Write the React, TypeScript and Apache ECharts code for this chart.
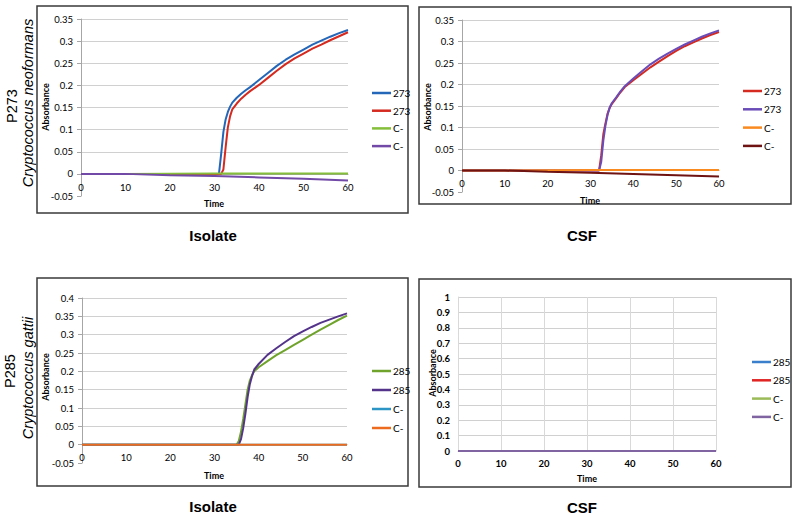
import React, { useEffect, useRef } from "react";
import * as echarts from "echarts";

// ---------- data ----------
// Panel 1: P273 Isolate
const P1_TIME = [0, 10, 20, 30, 31, 31.5, 32, 32.5, 33, 33.5, 34, 35, 36, 37, 38, 40, 42, 44, 46, 48, 50, 52, 54, 56, 58, 60];
const P1_273_BLUE = [0, 0, 0, 0, 0, 0.045, 0.095, 0.123, 0.14, 0.152, 0.161, 0.172, 0.181, 0.189, 0.196, 0.212, 0.228, 0.244, 0.258, 0.27, 0.281, 0.292, 0.301, 0.31, 0.318, 0.325];
const P1_273_RED = [0, 0, 0, 0, 0, 0, 0.01, 0.06, 0.105, 0.13, 0.146, 0.159, 0.17, 0.179, 0.187, 0.201, 0.217, 0.233, 0.248, 0.261, 0.272, 0.283, 0.292, 0.302, 0.311, 0.32];
const P1_CTRL_TIME = [0, 10, 20, 30, 40, 50, 60];
const P1_C_GREEN = [0, 0, 0.0005, 0.001, 0.001, 0.001, 0.001];
const P1_C_PURPLE = [0, 0, -0.003, -0.005, -0.008, -0.011, -0.015];

// Panel 2: P273 CSF
const P2_TIME = [0, 10, 20, 30, 32, 32.5, 33, 33.5, 34, 34.5, 35, 36, 37, 38, 40, 42, 44, 46, 48, 50, 52, 54, 56, 58, 60];
const P2_273_RED = [0, 0, 0, 0, 0, 0.035, 0.085, 0.11, 0.133, 0.146, 0.155, 0.168, 0.182, 0.194, 0.21, 0.225, 0.24, 0.253, 0.266, 0.278, 0.289, 0.298, 0.307, 0.315, 0.322];
const P2_273_PURPLE = [0, 0, 0, 0, 0, 0.02, 0.07, 0.105, 0.13, 0.147, 0.157, 0.17, 0.184, 0.196, 0.214, 0.231, 0.247, 0.26, 0.272, 0.283, 0.293, 0.302, 0.311, 0.319, 0.326];
const P2_CTRL_TIME = [0, 10, 20, 30, 40, 50, 60];
const P2_C_ORANGE = [0, 0, 0.0005, 0.001, 0.001, 0.001, 0.001];
const P2_C_DARKRED = [0, 0, -0.003, -0.005, -0.008, -0.011, -0.014];

// Panel 3: P285 Isolate
const P3_TIME = [0, 10, 20, 30, 35, 35.5, 36, 36.5, 37, 37.5, 38, 38.5, 39, 40, 42, 44, 46, 48, 50, 52, 54, 56, 58, 60];
const P3_285_GREEN = [0, 0, 0, 0, 0, 0.01, 0.035, 0.07, 0.11, 0.15, 0.175, 0.19, 0.2, 0.211, 0.228, 0.244, 0.258, 0.272, 0.286, 0.3, 0.314, 0.327, 0.34, 0.352];
const P3_285_PURPLE = [0, 0, 0, 0, 0, 0, 0.015, 0.045, 0.085, 0.13, 0.165, 0.187, 0.205, 0.22, 0.245, 0.263, 0.28, 0.296, 0.309, 0.321, 0.332, 0.341, 0.35, 0.358];
const P3_CTRL_TIME = [0, 60];
const P3_C_BLUE = [0, 0];
const P3_C_ORANGE = [0, 0];

// Panel 4: P285 CSF
const P4_TIME = [0, 60];
const P4_285_BLUE = [0, 0];
const P4_285_RED = [0, 0];
const P4_C_GREEN = [0, 0];
const P4_C_PURPLE = [0, 0];

const X_TICKS = { min: 0, max: 60, interval: 10 };

const zip = (t: number[], v: number[]) => t.map((x, i) => [x, v[i]]);

const FONT = "Lato, 'Open Sans', sans-serif";
const ARIAL = "'Liberation Sans', Arial, sans-serif";

type S = { id: string; label: string; color: string; t: number[]; v: number[] };

const PANELS: { series: S[]; legendLeft: number; legendTop: number; legendGap: number }[] = [
  {
    series: [
      { id: "p1a", label: "273", color: "#2466B8", t: P1_TIME, v: P1_273_BLUE },
      { id: "p1b", label: "273", color: "#D42A20", t: P1_TIME, v: P1_273_RED },
      { id: "p1c", label: "C-", color: "#84BE3A", t: P1_CTRL_TIME, v: P1_C_GREEN },
      { id: "p1d", label: "C-", color: "#7249A6", t: P1_CTRL_TIME, v: P1_C_PURPLE },
    ],
    legendLeft: 367,
    legendTop: 82,
    legendGap: 5.7,
  },
  {
    series: [
      { id: "p2a", label: "273", color: "#D42A20", t: P2_TIME, v: P2_273_RED },
      { id: "p2b", label: "273", color: "#6A4CB8", t: P2_TIME, v: P2_273_PURPLE },
      { id: "p2c", label: "C-", color: "#F98A20", t: P2_CTRL_TIME, v: P2_C_ORANGE },
      { id: "p2d", label: "C-", color: "#6E1212", t: P2_CTRL_TIME, v: P2_C_DARKRED },
    ],
    legendLeft: 738,
    legendTop: 80,
    legendGap: 6.3,
  },
  {
    series: [
      { id: "p3a", label: "285", color: "#6FA32C", t: P3_TIME, v: P3_285_GREEN },
      { id: "p3b", label: "285", color: "#54348A", t: P3_TIME, v: P3_285_PURPLE },
      { id: "p3c", label: "C-", color: "#2D95C6", t: P3_CTRL_TIME, v: P3_C_BLUE },
      { id: "p3d", label: "C-", color: "#EC6B1E", t: P3_CTRL_TIME, v: P3_C_ORANGE },
    ],
    legendLeft: 367,
    legendTop: 360,
    legendGap: 7,
  },
  {
    series: [
      { id: "p4a", label: "285", color: "#3A7FCB", t: P4_TIME, v: P4_285_BLUE },
      { id: "p4b", label: "285", color: "#E02424", t: P4_TIME, v: P4_285_RED },
      { id: "p4c", label: "C-", color: "#9BBB59", t: P4_TIME, v: P4_C_GREEN },
      { id: "p4d", label: "C-", color: "#8064A2", t: P4_TIME, v: P4_C_PURPLE },
    ],
    legendLeft: 747,
    legendTop: 351,
    legendGap: 6.3,
  },
];

const GRIDS = [
  { left: 81, top: 19, width: 267, height: 177 },
  { left: 462, top: 20, width: 257, height: 172 },
  { left: 82, top: 298, width: 265, height: 165 },
  { left: 458, top: 297, width: 258, height: 154 },
];

const Y_AXES = [
  { min: -0.05, max: 0.35, interval: 0.05 },
  { min: -0.05, max: 0.35, interval: 0.05 },
  { min: -0.05, max: 0.4, interval: 0.05 },
  { min: 0, max: 1, interval: 0.1 },
];

// x-axis labels sit just below the zero line (negative margin from grid bottom)
const X_LABEL_MARGIN = [-14, -13.5, -10.5, 7];

const BORDERS = [
  { x: 37, y: 6, width: 371, height: 207 },
  { x: 419, y: 7, width: 372, height: 197 },
  { x: 37, y: 278, width: 371, height: 208 },
  { x: 419, y: 279, width: 372, height: 208 },
];

const TIME_POS = [
  [214, 203],
  [590, 200],
  [214, 475],
  [587, 478],
];
const ABS_POS = [
  [45, 107],
  [427, 107],
  [45, 377],
  [432, 373],
];

const labelMap: Record<string, string> = {};
PANELS.forEach((p) => p.series.forEach((s) => (labelMap[s.id] = s.label)));

export default function App() {
  const ref = useRef<HTMLDivElement>(null);
  useEffect(() => {
    if (!ref.current) return;
    const chart = echarts.init(ref.current, null, { renderer: "svg" });
    const fmt = (v: number) => String(parseFloat(Number(v).toFixed(2)));

    const grid = GRIDS.map((g) => ({ ...g, containLabel: false }));
    const xAxis = GRIDS.map((_, i) => ({
      type: "value",
      gridIndex: i,
      ...X_TICKS,
      axisLine: { show: true, onZero: true, lineStyle: { color: i === 3 ? "#D9D9D9" : "#A6A6A6", width: 1 } },
      axisTick: { show: false },
      axisLabel: {
        color: "#000",
        fontSize: 9.5,
        fontFamily: FONT,
        fontWeight: i === 3 ? "bold" : "normal",
        margin: X_LABEL_MARGIN[i],
      },
      splitLine: { show: i === 3, lineStyle: { color: "#D9D9D9" } },
    }));
    const yAxis = Y_AXES.map((y, i) => ({
      type: "value",
      gridIndex: i,
      ...y,
      axisLine: { show: true, lineStyle: { color: i === 3 ? "#D9D9D9" : "#A6A6A6" } },
      axisTick: { show: i !== 3, length: 4, lineStyle: { color: "#A6A6A6" } },
      axisLabel: {
        color: "#000",
        fontSize: 9.5,
        fontFamily: FONT,
        fontWeight: i === 3 ? "bold" : "normal",
        margin: 8,
        formatter: fmt,
      },
      splitLine: { show: true, showMinLine: false, lineStyle: { color: "#D0D0D0", width: 1 } },
    }));

    const series: any[] = [];
    PANELS.forEach((p, i) =>
      p.series.forEach((s) =>
        series.push({
          type: "line",
          name: s.id,
          xAxisIndex: i,
          yAxisIndex: i,
          data: zip(s.t, s.v),
          showSymbol: false,
          symbol: "none",
          smooth: false,
          color: s.color,
          lineStyle: { color: s.color, width: 2 },
        })
      )
    );

    const legend = PANELS.map((p) => ({
      orient: "vertical",
      left: p.legendLeft,
      top: p.legendTop,
      itemGap: p.legendGap,
      itemWidth: 19,
      itemHeight: 2.5,
      icon: "rect",
      selectedMode: false,
      data: p.series.map((s) => s.id),
      formatter: (name: string) => labelMap[name] ?? name,
      textStyle: { fontSize: 10, fontFamily: FONT, color: "#000", lineHeight: 12, padding: [0, 0, 0, -3] },
    }));

    const graphic: any[] = [];
    BORDERS.forEach((b) =>
      graphic.push({
        type: "rect",
        shape: b,
        style: { fill: "none", stroke: "#3A3A3A", lineWidth: 1.5 },
        silent: true,
        z: 0,
      })
    );
    TIME_POS.forEach(([x, y]) =>
      graphic.push({
        type: "text",
        x,
        y,
        style: { text: "Time", font: `bold 9px ${FONT}`, fill: "#000", align: "center", verticalAlign: "middle" },
      })
    );
    ABS_POS.forEach(([x, y]) =>
      graphic.push({
        type: "text",
        x,
        y,
        rotation: Math.PI / 2,
        style: { text: "Absorbance", font: `bold 9px ${FONT}`, fill: "#000", align: "center", verticalAlign: "middle" },
      })
    );
    const bottomLabels: [string, number, number][] = [
      ["Isolate", 213, 235],
      ["CSF", 582, 235],
      ["Isolate", 213, 506],
      ["CSF", 582, 507],
    ];
    bottomLabels.forEach(([t, x, y]) =>
      graphic.push({
        type: "text",
        x,
        y,
        style: { text: t, font: `bold 15px ${ARIAL}`, fill: "#000", align: "center", verticalAlign: "middle" },
      })
    );
    const sideLabels: [string, number, number, boolean][] = [
      ["P273", 12, 106, false],
      ["Cryptococcus neoformans", 28, 103, true],
      ["P285", 10, 371, false],
      ["Cryptococcus gattii", 28, 378, true],
    ];
    sideLabels.forEach(([t, x, y, it]) =>
      graphic.push({
        type: "text",
        x,
        y,
        rotation: Math.PI / 2,
        style: {
          text: t,
          font: `${it ? "italic " : ""}14.5px ${ARIAL}`,
          fill: "#000",
          align: "center",
          verticalAlign: "middle",
        },
      })
    );

    chart.setOption({
      animation: false,
      backgroundColor: "#fff",
      grid,
      xAxis,
      yAxis,
      series,
      legend,
      graphic,
    });
    return () => chart.dispose();
  }, []);
  return <div ref={ref} style={{ position: "absolute", left: 0, top: 0, width: 800, height: 518 }} />;
}
